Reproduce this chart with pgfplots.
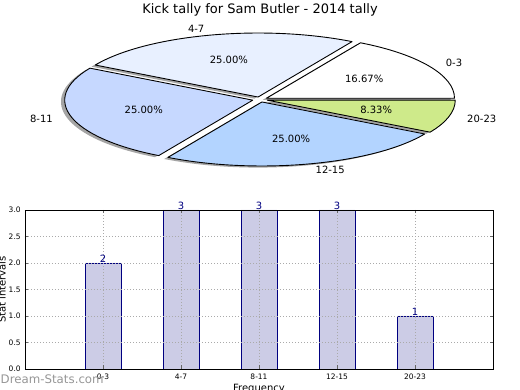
\documentclass[border=0pt]{standalone}
\usepackage{fontspec}
\setmainfont{DejaVu Sans}
\usepackage{pgfplots}
\pgfplotsset{compat=1.18}
\definecolor{pieA}{RGB}{255,255,255}
\definecolor{pieB}{RGB}{232,240,255}
\definecolor{pieC}{RGB}{198,216,255}
\definecolor{pieD}{RGB}{179,212,255}
\definecolor{pieE}{RGB}{206,234,138}
\definecolor{barfill}{RGB}{204,204,230}
\definecolor{baredge}{RGB}{0,0,128}
\definecolor{gridgray}{RGB}{170,170,170}
\definecolor{wmgray}{RGB}{150,150,150}
\tikzset{
  pctlabel/.style={font=\fontsize{10}{12}\selectfont, inner sep=0pt},
  pielabel/.style={font=\fontsize{10}{12}\selectfont, inner sep=0pt},
  pieshadow/.style={fill=black!70, opacity=0.5, draw=none},
}
\def\pievals{2/0-3/16.67/pieA, 3/4-7/25.00/pieB, 3/8-11/25.00/pieC, 3/12-15/25.00/pieD, 1/20-23/8.33/pieE}
\def\pietotal{12}
\begin{document}
\begin{tikzpicture}[x=1pt,y=1pt]
\useasboundingbox (0,-390) rectangle (520,0);
\node[font=\fontsize{13}{15}\selectfont, anchor=base] at (260,-13.5) {Kick tally for Sam Butler - 2014 tally};

\begin{axis}[hide axis, x=188pt, y=64pt, xmin=-1.6, xmax=1.6, ymin=-1.6, ymax=1.6,
  scale only axis, anchor=center, at={(260pt,-99.5pt)}, clip=false]
% shadows
\gdef\cum{0}
\foreach \v/\lab/\pct/\col in \pievals {
  \pgfmathsetmacro\angA{\cum/\pietotal*360}
  \pgfmathsetmacro\angB{(\cum+\v)/\pietotal*360}
  \pgfmathsetmacro\angM{(\angA+\angB)/2}
  \pgfmathsetmacro\ox{0.04*cos(\angM)-0.02}
  \pgfmathsetmacro\oy{0.04*sin(\angM)-0.025}
  \pgfmathsetmacro\px{\ox+cos(\angA)}
  \pgfmathsetmacro\py{\oy+sin(\angA)}
  \edef\cmd{\noexpand\fill[pieshadow] (axis cs:\ox,\oy) -- (axis cs:\px,\py) arc[start angle=\angA, end angle=\angB, x radius=188pt, y radius=64pt] -- cycle;}
  \cmd
  \pgfmathsetmacro\newcum{\cum+\v}
  \xdef\cum{\newcum}
}
% wedges
\gdef\cum{0}
\foreach \v/\lab/\pct/\col in \pievals {
  \pgfmathsetmacro\angA{\cum/\pietotal*360}
  \pgfmathsetmacro\angB{(\cum+\v)/\pietotal*360}
  \pgfmathsetmacro\angM{(\angA+\angB)/2}
  \pgfmathsetmacro\cosm{cos(\angM)}
  \pgfmathsetmacro\ox{0.04*cos(\angM)}
  \pgfmathsetmacro\oy{0.04*sin(\angM)}
  \pgfmathsetmacro\px{\ox+cos(\angA)}
  \pgfmathsetmacro\py{\oy+sin(\angA)}
  \pgfmathsetmacro\tx{\ox+0.6*cos(\angM)}
  \pgfmathsetmacro\ty{\oy+0.6*sin(\angM)}
  \pgfmathsetmacro\lx{\ox+1.1*cos(\angM)}
  \pgfmathsetmacro\ly{\oy+1.1*sin(\angM)}
  \ifdim\cosm pt>0pt \def\anc{west}\else\def\anc{east}\fi
  \edef\cmd{\noexpand\filldraw[fill=\col, draw=black, line width=0.9pt, line join=round] (axis cs:\ox,\oy) -- (axis cs:\px,\py) arc[start angle=\angA, end angle=\angB, x radius=188pt, y radius=64pt] -- cycle;
    \noexpand\node[pctlabel] at (axis cs:\tx,\ty) {\pct\noexpand\%};
    \noexpand\node[pielabel, anchor=\anc] at (axis cs:\lx,\ly) {\lab};}
  \cmd
  \pgfmathsetmacro\newcum{\cum+\v}
  \xdef\cum{\newcum}
}
\end{axis}

\begin{axis}[at={(25pt,-369pt)}, anchor=south west, scale only axis,
  width=468pt, height=159pt,
  xmin=-1, xmax=5, ymin=0, ymax=3,
  xtick={0,1,2,3,4}, xticklabels={0-3,4-7,8-11,12-15,20-23},
  ytick={0,0.5,1,1.5,2,2.5,3},
  /pgf/number format/assume math mode=true,
  yticklabel style={/pgf/number format/.cd, fixed, fixed zerofill, precision=1, /tikz/.cd, xshift=-0.8pt},
  xticklabel style={yshift=-1.5pt},
  ticklabel style={font=\fontsize{7.5}{9}\selectfont},
  grid=major, grid style={gridgray, line width=0.8pt, dash pattern=on 1pt off 2pt},
  axis on top,
  tick align=inside, major tick length=3.5pt,
  tick style={black!60, line width=0.6pt},
  axis line style={black, line width=0.8pt},
  clip=false,
]
\addplot[ybar, bar width=0.46, fill=barfill, draw=baredge, line width=0.8pt,
  nodes near coords,
  nodes near coords style={font=\fontsize{10}{12}\selectfont, text=baredge, inner sep=0.3pt, anchor=south}]
  coordinates {(0,2) (1,3) (2,3) (3,3) (4,1)};
\end{axis}

\node[font=\fontsize{10}{12}\selectfont, rotate=90, anchor=base] at (5.7,-289.5) {Stat intervals};
\node[font=\fontsize{10}{12}\selectfont, anchor=base] at (259,-391.5) {Frequency};
\node[font=\fontsize{11.8}{14}\selectfont, text=wmgray, anchor=base west, inner sep=0pt] at (0.5,-383.5) {Dream-Stats.com};
\end{tikzpicture}
\end{document}
